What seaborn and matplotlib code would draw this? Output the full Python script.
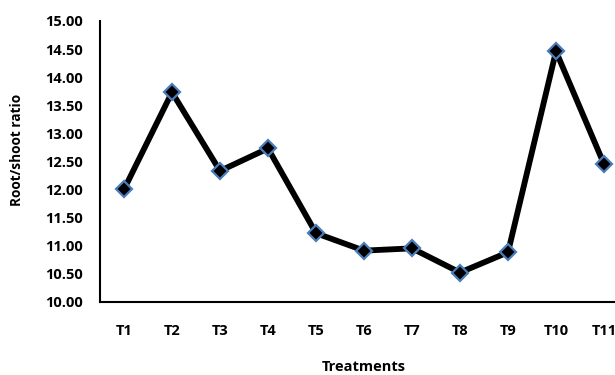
import matplotlib
matplotlib.use("Agg")
import matplotlib.pyplot as plt
import seaborn as sns
import pandas as pd

treatments = ["T1", "T2", "T3", "T4", "T5", "T6", "T7", "T8", "T9", "T10", "T11"]
root_shoot = [12.00, 13.73, 12.33, 12.73, 11.22, 10.91, 10.95, 10.52, 10.88, 14.46, 12.45]
yticks = [10.0, 10.5, 11.0, 11.5, 12.0, 12.5, 13.0, 13.5, 14.0, 14.5, 15.0]

sns.set_style("white")
plt.rcParams["font.family"] = ["Open Sans", "DejaVu Sans"]
plt.rcParams["font.weight"] = "bold"
plt.rcParams["text.color"] = "black"
plt.rcParams["xtick.color"] = "black"
plt.rcParams["ytick.color"] = "black"
plt.rcParams["axes.labelcolor"] = "black"

df = pd.DataFrame({"Treatment": treatments, "Ratio": root_shoot})

fig = plt.figure(figsize=(6.15, 3.75), dpi=100)
ax = fig.add_axes([100 / 615, 73.3 / 375, 528 / 615, 280.7 / 375])

sns.lineplot(data=df, x="Treatment", y="Ratio", sort=False, ax=ax,
             color="black", linewidth=4.2, marker="D", markersize=8.5,
             markerfacecolor="black", markeredgecolor="#4A7EBB",
             markeredgewidth=1.6)

ax.set_xlim(-0.5, len(treatments) - 0.5)
ax.set_ylim(10, 15)
ax.set_yticks(yticks)
ax.set_yticklabels([f"{v:.2f}" for v in yticks], fontsize=10.5, fontweight="bold")
ax.set_xticks(range(len(treatments)))
ax.set_xticklabels(treatments, fontsize=10.5, fontweight="bold")
ax.tick_params(axis="y", length=0, pad=12)
ax.tick_params(axis="x", length=0, pad=16)

for side in ("top", "right"):
    ax.spines[side].set_visible(False)
for side in ("left", "bottom"):
    ax.spines[side].set_color("black")
    ax.spines[side].set_linewidth(1.5)

ax.set_xlabel("Treatments", fontsize=10.5, fontweight="bold", labelpad=16)
ax.set_ylabel("Root/shoot ratio", fontsize=9.8, fontweight="bold")
ax.yaxis.set_label_coords(-0.143, 0.54)

fig.savefig("out.png", dpi=100)
